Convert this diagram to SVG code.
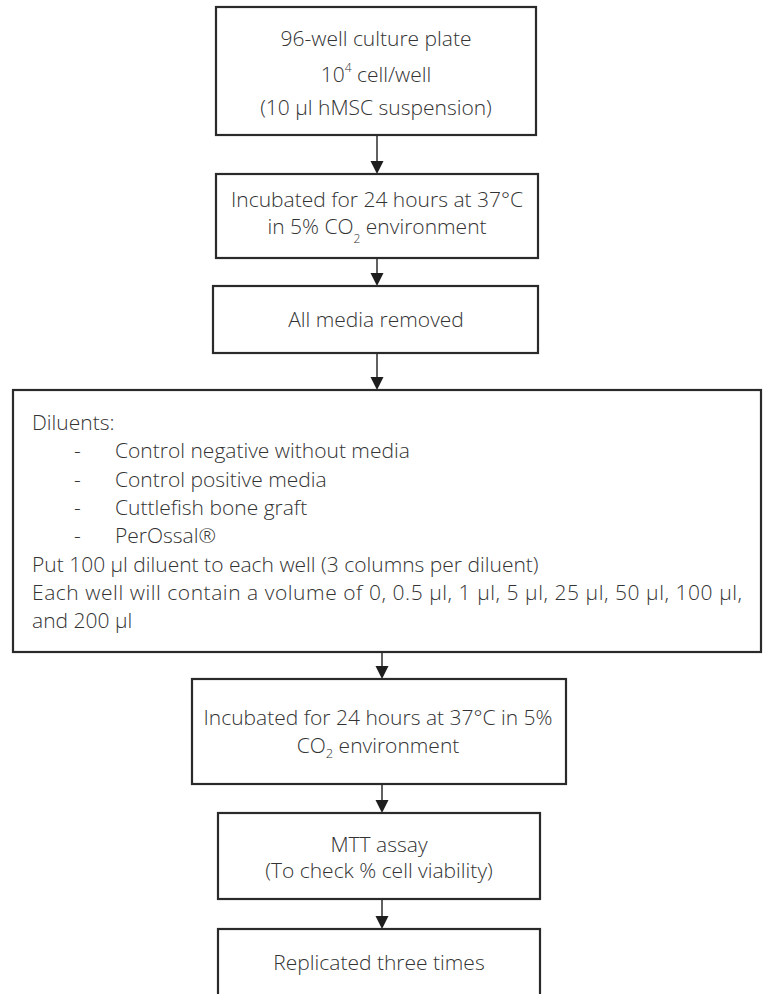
<svg xmlns="http://www.w3.org/2000/svg" width="763" height="994" viewBox="0 0 763 994">
<defs>
<style>
.box{fill:#fff;stroke:#2a2a2a;stroke-width:2.2}
.t{font-family:"Open Sans","Noto Sans","DejaVu Sans",sans-serif;font-size:21px;font-weight:300;fill:#333}
.c{text-anchor:middle}
.ln{stroke:#1e1e1e;stroke-width:1.4;fill:none}
.hd{fill:#1e1e1e}
</style>
</defs>
<rect width="763" height="994" fill="#fff"/>
<g id="connectors">
<line class="ln" x1="377" y1="136" x2="377" y2="162"/><path class="hd" d="M370.5,161 L383.5,161 L377,174 Z"/>
<line class="ln" x1="377" y1="259" x2="377" y2="274"/><path class="hd" d="M370.5,273 L383.5,273 L377,286 Z"/>
<line class="ln" x1="377" y1="354" x2="377" y2="378"/><path class="hd" d="M370.5,377 L383.5,377 L377,390 Z"/>
<line class="ln" x1="382" y1="653" x2="382" y2="667"/><path class="hd" d="M375.5,666 L388.5,666 L382,679 Z"/>
<line class="ln" x1="382" y1="785" x2="382" y2="801"/><path class="hd" d="M375.5,800 L388.5,800 L382,813 Z"/>
<line class="ln" x1="382" y1="900" x2="382" y2="917"/><path class="hd" d="M375.5,916 L388.5,916 L382,929 Z"/>
</g>
<g id="n1">
<rect class="box" x="216" y="7" width="320" height="128"/>
<text class="t c" x="376" y="46">96-well culture plate</text>
<text class="t c" x="376" y="82">10<tspan dy="-10" font-size="12">4</tspan><tspan dy="10"> cell/well</tspan></text>
<text class="t c" x="376" y="115">(10 µl hMSC suspension)</text>
</g>
<g id="n2">
<rect class="box" x="216" y="174" width="322" height="84"/>
<text class="t c" x="377" y="207">Incubated for 24 hours at 37°C</text>
<text class="t c" x="377" y="234">in 5% CO<tspan dy="9" font-size="12">2</tspan><tspan dy="-9"> environment</tspan></text>
</g>
<g id="n3">
<rect class="box" x="213" y="286" width="325" height="67"/>
<text class="t c" x="376" y="327">All media removed</text>
</g>
<g id="n4">
<rect class="box" x="13" y="390" width="748" height="262"/>
<text class="t" x="32" y="430">Diluents:</text>
<text class="t" x="74" y="458">-</text><text class="t" x="115" y="458">Control negative without media</text>
<text class="t" x="74" y="487">-</text><text class="t" x="115" y="487">Control positive media</text>
<text class="t" x="74" y="515">-</text><text class="t" x="115" y="515">Cuttlefish bone graft</text>
<text class="t" x="74" y="543">-</text><text class="t" x="115" y="543">PerOssal®</text>
<text class="t" x="32" y="572">Put 100 µl diluent to each well (3 columns per diluent)</text>
<text class="t" x="32" y="600" textLength="710" lengthAdjust="spacing">Each well will contain a volume of 0, 0.5 µl, 1 µl, 5 µl, 25 µl, 50 µl, 100 µl,</text>
<text class="t" x="32" y="628">and 200 µl</text>
</g>
<g id="n5">
<rect class="box" x="192" y="679" width="374" height="105"/>
<text class="t c" x="378" y="725">Incubated for 24 hours at 37°C in 5%</text>
<text class="t c" x="378" y="753">CO<tspan dy="5" font-size="13">2</tspan><tspan dy="-5"> environment</tspan></text>
</g>
<g id="n6">
<rect class="box" x="218" y="813" width="322" height="86"/>
<text class="t c" x="379" y="852">MTT assay</text>
<text class="t c" x="379" y="878">(To check % cell viability)</text>
</g>
<g id="n7">
<rect class="box" x="218" y="929" width="322" height="80"/>
<text class="t c" x="379" y="970">Replicated three times</text>
</g>
</svg>
